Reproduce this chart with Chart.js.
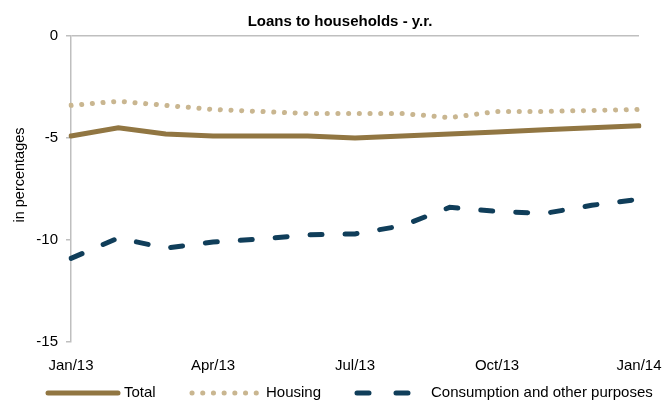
<!DOCTYPE html>
<html>
<head>
<meta charset="utf-8">
<script src="https://cdn.jsdelivr.net/npm/chart.js@4"></script>
<style>
  html, body { margin: 0; padding: 0; background: #fff; }
  #wrap { width: 664px; height: 403px; position: relative; }
</style>
</head>
<body>
<div id="wrap"><canvas id="loansChart"></canvas></div>
<script>
// Meses (solo se rotula uno de cada tres)
const months = ["Jan/13", "Feb/13", "Mar/13", "Apr/13", "May/13", "Jun/13", "Jul/13",
                "Aug/13", "Sep/13", "Oct/13", "Nov/13", "Dec/13", "Jan/14"];

// Series (en %)
const totalValues       = [-4.9, -4.5, -4.8, -4.9, -4.9, -4.9, -5.0, -4.9, -4.8, -4.7, -4.6, -4.5, -4.4];
const housingValues     = [-3.4, -3.2, -3.4, -3.6, -3.7, -3.8, -3.8, -3.8, -4.0, -3.7, -3.7, -3.65, -3.6];
const consumptionValues = [-10.9, -9.9, -10.4, -10.1, -9.95, -9.75, -9.7, -9.3, -8.4, -8.6, -8.7, -8.3, -8.0];

const yTicks = [0, -5, -10, -15];

const chartTitle = "Loans to households - y.r.";
const yAxisTitle = "in percentages";

const colTotal = "rgb(145, 118, 66)";
const colHousing = "rgb(201, 182, 144)";
const colConsumption = "rgb(16, 62, 90)";
const axisGray = "#bfbfbf";
const fontFamily = "'Liberation Sans', Arial, sans-serif";

// Título, leyenda y título del eje Y dibujados a mano
const chartTexts = {
  id: "chartTexts",
  afterDraw(chart) {
    const ctx = chart.ctx;
    ctx.save();
    ctx.fillStyle = "#000";
    ctx.textBaseline = "middle";

    // título
    ctx.font = "bold 15px " + fontFamily;
    ctx.textAlign = "center";
    ctx.fillText(chartTitle, 340, 22);

    // leyenda
    const y = 393;
    const items = [
      { ds: 0, x1: 48, x2: 118, tx: 124 },
      { ds: 1, x1: 192, x2: 257, tx: 266 },
      { ds: 2, x1: 357, x2: 408, tx: 431 }
    ];
    items.forEach(it => {
      const ds = chart.data.datasets[it.ds];
      ctx.beginPath();
      ctx.strokeStyle = ds.borderColor;
      ctx.lineWidth = ds.borderWidth;
      ctx.lineCap = ds.borderCapStyle || "butt";
      ctx.setLineDash(ds.legendDash || []);
      ctx.moveTo(it.x1, y);
      ctx.lineTo(it.x2, y);
      ctx.stroke();
      ctx.setLineDash([]);
      ctx.font = "15px " + fontFamily;
      ctx.textAlign = "left";
      ctx.fillText(ds.label, it.tx, y);
    });

    // título del eje Y
    ctx.translate(20, 175);
    ctx.rotate(-Math.PI / 2);
    ctx.font = "14.5px " + fontFamily;
    ctx.textAlign = "center";
    ctx.fillText(yAxisTitle, 0, 0);
    ctx.restore();
  }
};

document.addEventListener("DOMContentLoaded", () => {
  const ctx = document.getElementById("loansChart").getContext("2d");
  new Chart(ctx, {
    type: "line",
    data: {
      labels: months,
      datasets: [
        {
          label: "Total",
          data: totalValues,
          borderColor: colTotal,
          borderWidth: 5,
          borderCapStyle: "round",
          pointRadius: 0,
          tension: 0,
          order: 3
        },
        {
          label: "Housing",
          data: housingValues,
          borderColor: colHousing,
          borderWidth: 5,
          borderCapStyle: "round",
          borderDash: [0.1, 10.6],
          legendDash: [0.1, 10.6],
          pointRadius: 0,
          tension: 0,
          order: 2
        },
        {
          label: "Consumption and other purposes",
          data: consumptionValues,
          borderColor: colConsumption,
          borderWidth: 5,
          borderCapStyle: "round",
          borderDash: [12, 23],
          legendDash: [12, 27],
          pointRadius: 0,
          tension: 0,
          order: 1
        }
      ]
    },
    options: {
      responsive: true,
      maintainAspectRatio: false,
      animation: false,
      layout: { padding: { left: 28, right: 25, top: 36, bottom: 25 } },
      plugins: {
        legend: { display: false },
        tooltip: { enabled: false },
        title: { display: false }
      },
      scales: {
        x: {
          grid: { display: false, drawTicks: false },
          border: { display: false },
          ticks: {
            autoSkip: false,
            maxRotation: 0,
            padding: 15,
            color: "#000",
            font: { family: fontFamily, size: 15 },
            callback: function(value, index) {
              return index % 3 === 0 ? this.getLabelForValue(value) : "";
            }
          },
          afterFit: scale => {
            scale.height = 36;
            scale.paddingLeft = 0;
            scale.paddingRight = 0;
          }
        },
        y: {
          min: -15,
          max: 0,
          afterBuildTicks: scale => { scale.ticks = yTicks.map(v => ({ value: v })); },
          grid: {
            color: c => (c.tick && c.tick.value === 0 ? axisGray : "transparent"),
            tickColor: axisGray,
            tickLength: 5,
            lineWidth: 1.5
          },
          border: { display: true, color: axisGray, width: 1.5 },
          ticks: {
            padding: 8,
            color: "#000",
            font: { family: fontFamily, size: 15 }
          },
          afterFit: scale => {
            scale.width = 43;
            scale.paddingTop = 0;
          }
        }
      }
    },
    plugins: [chartTexts]
  });
});
</script>
</body>
</html>
